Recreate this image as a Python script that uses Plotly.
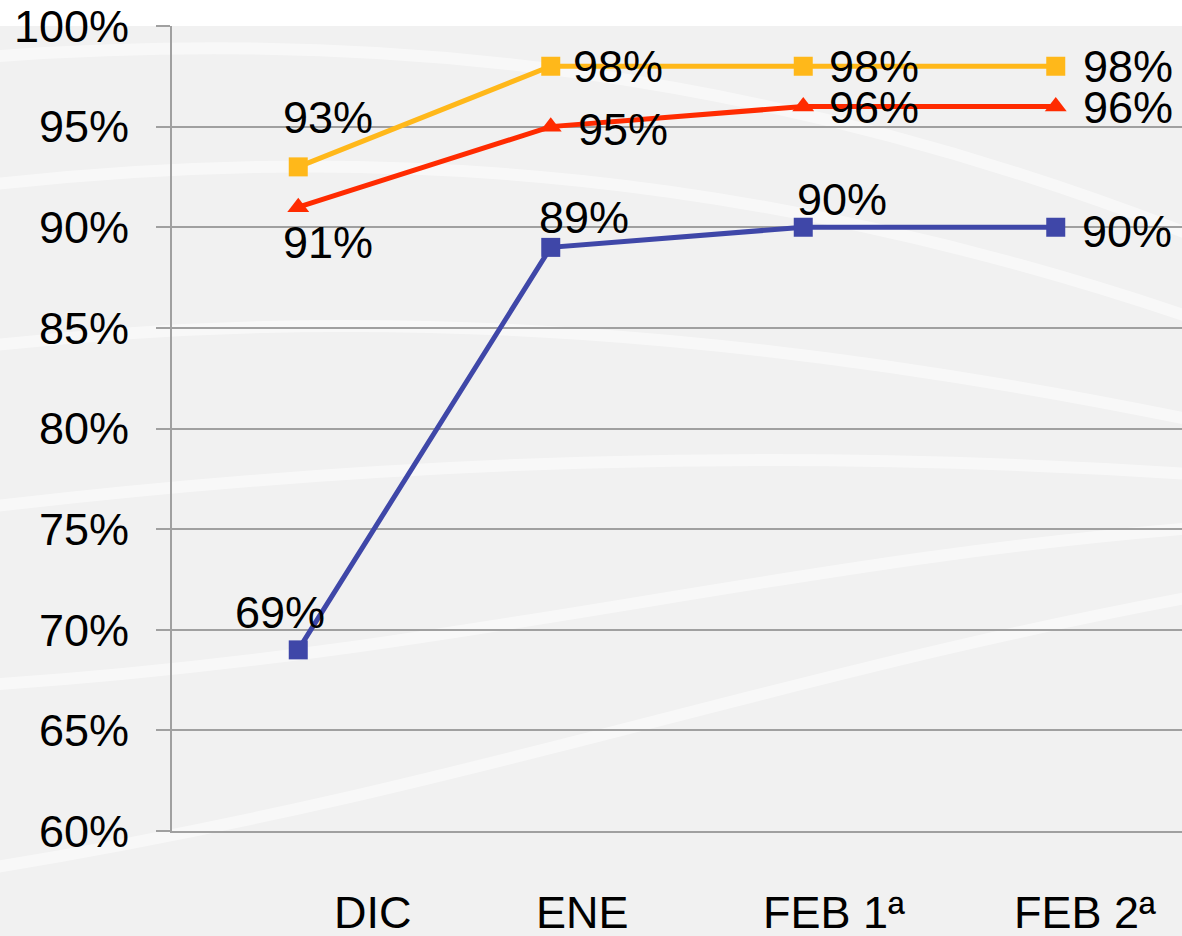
import plotly.graph_objects as go

# categories and series
periods = ["DIC", "ENE", "FEB 1ª", "FEB 2ª"]
yellow_vals = [93, 98, 98, 98]
red_vals = [91, 95, 96, 96]
blue_vals = [69, 89, 90, 90]

# label offsets (pixels) from each marker
yellow_off = [(30, 49), (67, 0), (71, 0), (72, 0)]
red_off = [(30, -35), (72, -3), (71, -1), (72, -1)]
blue_off = [(-18, 37), (33, 30), (39, 28), (71, -4)]
# category labels sit a little right of the category centres
cat_shift = [75, 32, 31, 29]

FONT = "Liberation Sans, Arial, sans-serif"
GRID = "#A0A0A0"

fig = go.Figure()
annotations = []


def add_series(vals, color, symbol, offsets):
    fig.add_trace(go.Scatter(
        x=periods, y=vals,
        mode="lines+markers",
        line=dict(color=color, width=5),
        marker=dict(color=color, symbol=symbol, size=19),
        cliponaxis=False,
        showlegend=False,
        hoverinfo="skip",
    ))
    for p, v, (dx, dy) in zip(periods, vals, offsets):
        annotations.append(dict(
            x=p, y=v, text=f"{v}%", showarrow=False,
            xshift=dx, yshift=dy,
            font=dict(family=FONT, size=45, color="black"),
        ))


add_series(yellow_vals, "#FFB81A", "square", yellow_off)
add_series(red_vals, "#FF2B00", "triangle-up", red_off)
add_series(blue_vals, "#3F47A8", "square", blue_off)

for p, dx in zip(periods, cat_shift):
    annotations.append(dict(
        x=p, xref="x", y=0, yref="paper", yanchor="middle",
        text=p, showarrow=False, xshift=dx, yshift=-81,
        font=dict(family=FONT, size=45, color="black"),
    ))

# soft white waves in the background
waves = [
    "M -0.2,0.96 C 0.2,1.0 0.6,0.95 1.05,0.72",
    "M -0.2,0.80 C 0.2,0.86 0.6,0.82 1.05,0.62",
    "M -0.2,0.60 C 0.2,0.66 0.6,0.62 1.05,0.50",
    "M -0.2,0.40 C 0.2,0.46 0.6,0.48 1.05,0.44",
    "M -0.2,0.18 C 0.3,0.22 0.6,0.34 1.05,0.38",
    "M -0.2,-0.05 C 0.3,0.05 0.6,0.20 1.05,0.30",
]
shapes = [dict(type="path", xref="paper", yref="paper", path=p, layer="below",
               line=dict(color="rgba(255,255,255,0.5)", width=12))
          for p in waves]
shapes.append(dict(type="rect", xref="paper", yref="paper", x0=-0.3, x1=1.05,
                   y0=1.0, y1=1.1, layer="below", line=dict(width=0),
                   fillcolor="white"))

fig.update_layout(
    width=1182, height=936,
    margin=dict(l=172, r=0, t=26, b=105),
    paper_bgcolor="#F1F1F1",
    plot_bgcolor="#F1F1F1",
    font=dict(family=FONT, size=45, color="black"),
    shapes=shapes,
    annotations=annotations,
)
fig.update_xaxes(
    type="category", range=[-0.5, 3.5], automargin=False,
    showgrid=False, showline=True, linecolor=GRID, linewidth=2,
    ticks="", showticklabels=False,
)
fig.update_yaxes(
    range=[60, 100], dtick=5, ticksuffix="%", automargin=False,
    showgrid=True, gridcolor=GRID, gridwidth=1.5,
    showline=True, linecolor=GRID, linewidth=2,
    ticks="outside", ticklen=14, tickcolor=GRID, tickwidth=1.5,
    ticklabelstandoff=18, zeroline=False,
    tickfont=dict(family=FONT, size=45, color="black"),
)

# drop the default page margin so the figure sits at the window corner
fig.write_html(
    "out.html",
    config={"displayModeBar": False},
    post_script="document.body.style.margin='0';document.body.style.overflow='hidden';",
)
